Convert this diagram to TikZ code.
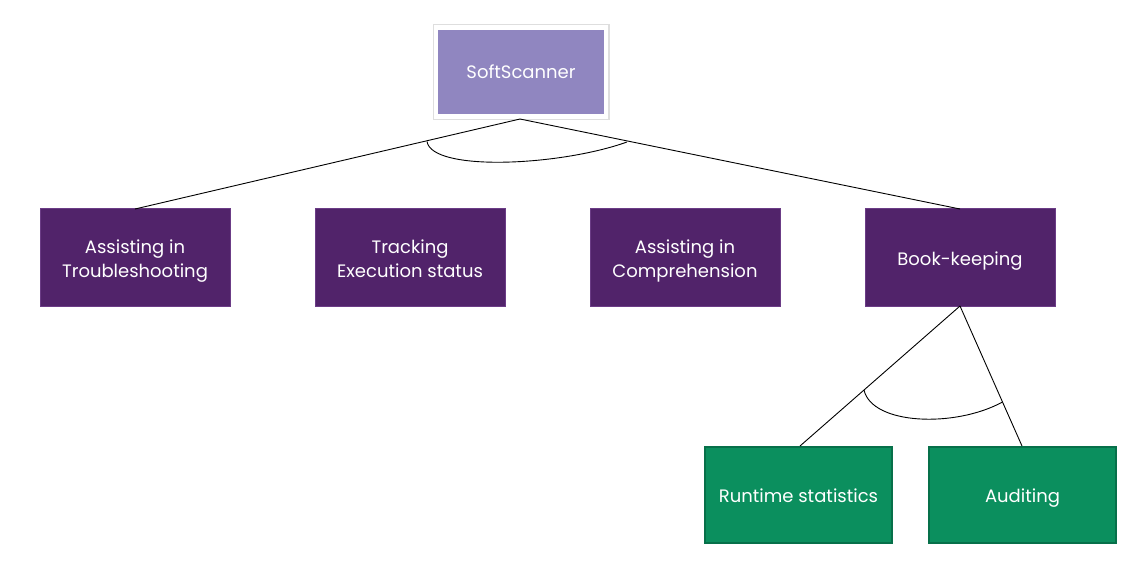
\documentclass[tikz,border=0pt]{standalone}
\usepackage{fontspec}
\setmainfont{Poppins}
\definecolor{topfill}{HTML}{9086C0}
\definecolor{midfill}{HTML}{51236A}
\definecolor{midedge}{HTML}{6B3C86}
\definecolor{leaffill}{HTML}{0B8F5E}
\definecolor{leafedge}{HTML}{07704A}
\newsavebox{\mytbox}
\newcommand{\boxtext}[2]{\sbox{\mytbox}{\begin{tabular}{@{}c@{}}#2\end{tabular}}\raisebox{#1}[\ht\mytbox][\dp\mytbox]{\usebox{\mytbox}}}
\tikzset{
  topbox/.style={draw=white, line width=4.5pt, fill=topfill, minimum width=170pt, minimum height=89pt,
    text=white, font=\fontsize{18}{22}\selectfont, align=center,
    preaction={draw=black!13, line width=7pt}},
  midbox/.style={draw=midedge, line width=0.6pt, fill=midfill, minimum width=190pt, minimum height=98pt,
    text=white, font=\fontsize{18}{24}\selectfont, inner sep=0pt},
  leafbox/.style={draw=leafedge, line width=2pt, fill=leaffill, minimum width=187pt, minimum height=96pt,
    text=white, font=\fontsize{18}{24}\selectfont, inner sep=0pt},
  link/.style={draw=black, line width=0.9pt},
}
\begin{document}
\begin{tikzpicture}[x=1pt,y=-1pt]
\useasboundingbox (0,0) rectangle (1125,582);
\node[topbox] (soft) at (521,72) {SoftScanner};
\node[midbox] (trouble) at (135,257) {\boxtext{-4pt}{Assisting in\\Troubleshooting}};
\node[midbox] (track) at (410,257) {\boxtext{-4pt}{Tracking\\Execution status}};
\node[midbox] (compr) at (685,257) {\boxtext{-4pt}{Assisting in\\Comprehension}};
\node[midbox] (book) at (960,257) {\boxtext{-4pt}{Book-keeping}};
\node[leafbox] (runtime) at (798.5,495) {\boxtext{-2.5pt}{Runtime statistics}};
\node[leafbox] (audit) at (1022.5,495) {\boxtext{-3pt}{Auditing}};
\coordinate (sb) at (520,119);
\coordinate (tt) at (135,209);
\coordinate (bt) at (960,209);
\coordinate (bb) at (960,306);
\coordinate (rt) at (800,446);
\coordinate (at) at (1022,446);
\draw[link] (sb) -- (tt);
\draw[link] (sb) -- (bt);
\draw[link] (bb) -- (rt);
\draw[link] (bb) -- (at);
\coordinate (a1) at (427,141.5);
\coordinate (a2) at (627,142);
\draw[link] (a1) .. controls (432,172) and (560,166) .. (a2);
\coordinate (b1) at (864,390);
\coordinate (b2) at (1002.5,402);
\draw[link] (b1) .. controls (872,425) and (955,428) .. (b2);
\end{tikzpicture}
\end{document}
